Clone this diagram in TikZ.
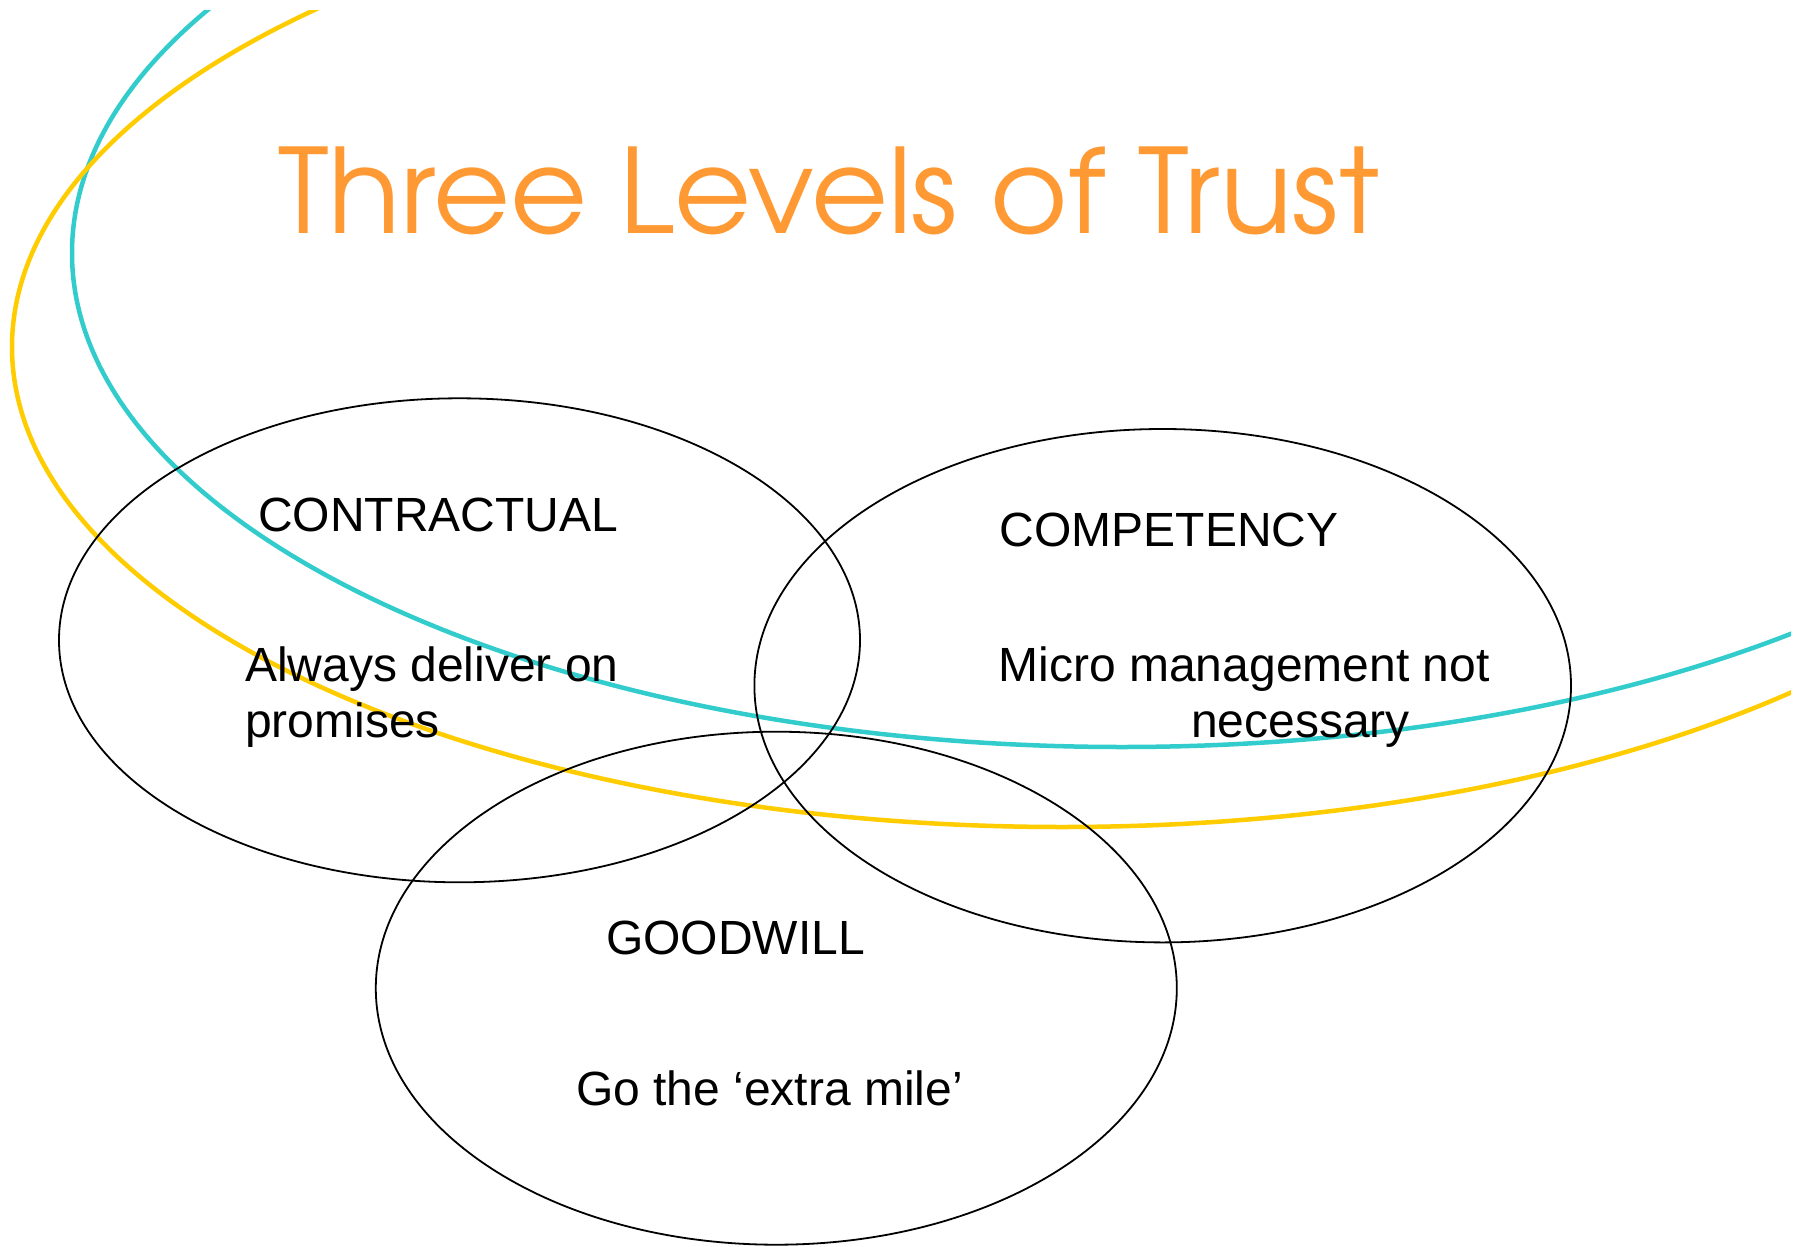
\documentclass[tikz,border=0pt]{standalone}
\usepackage{fontspec}
\usepackage{graphicx}
\setmainfont{Liberation Sans}
\newfontfamily\titlefont{TeX Gyre Adventor}
\definecolor{titleorange}{RGB}{255,153,51}
\definecolor{swooshteal}{RGB}{51,204,204}
\definecolor{swooshgold}{RGB}{255,204,0}

\begin{document}
\begin{tikzpicture}[x=1pt,y=-1pt,
  trustring/.style={draw=black,line width=1.8pt},
  swoosh/.style={line width=4.5pt},
  bodytext/.style={anchor=base west,inner sep=0pt,align=left,
    font=\fontsize{48}{55.5}\selectfont}]
\useasboundingbox (0,0) rectangle (1802,1247);
\fill[white] (0,0) rectangle (1802,1247);

% decorative swooshes behind everything
\begin{scope}
  \clip (0,11) rectangle (1791,1247);
  \draw[swoosh,swooshteal] (1122,253) ellipse [x radius=1050, y radius=494];
  \draw[swoosh,swooshgold] (1062,347) ellipse [x radius=1050, y radius=480];
\end{scope}

% title
\node[anchor=base west,inner sep=0pt,text=titleorange] (title) at (278,233.3)
  {\resizebox{1100pt}{86.6pt}{\titlefont Three Levels of Trust}};

% the three overlapping levels
\coordinate (contractual) at (459.5,640.3);
\coordinate (competency)  at (1162.7,685.7);
\coordinate (goodwill)    at (776.3,988.2);
\draw[trustring] (contractual) ellipse [x radius=400.5, y radius=242];
\draw[trustring] (competency)  ellipse [x radius=408.3, y radius=256.7];
\draw[trustring] (goodwill)    ellipse [x radius=400.5, y radius=256.5];

% labels (two-line blocks are anchored on the baseline of their last line)
\node[bodytext] (contractualhead) at (258,531.7) {CONTRACTUAL};
\node[bodytext] (contractualtext) at (245,737.2) {Always deliver on\\promises};
\node[bodytext] (competencyhead) at (999.6,546.7) {COMPETENCY};
\node[bodytext] (competencytext) at (998.5,737.2) {Micro management not\\\hspace*{192.5pt}necessary};
\node[bodytext] (goodwillhead) at (606,954) {GOODWILL};
\node[bodytext] (goodwilltext) at (575.8,1105) {Go the ‘extra mile’};
\end{tikzpicture}
\end{document}
